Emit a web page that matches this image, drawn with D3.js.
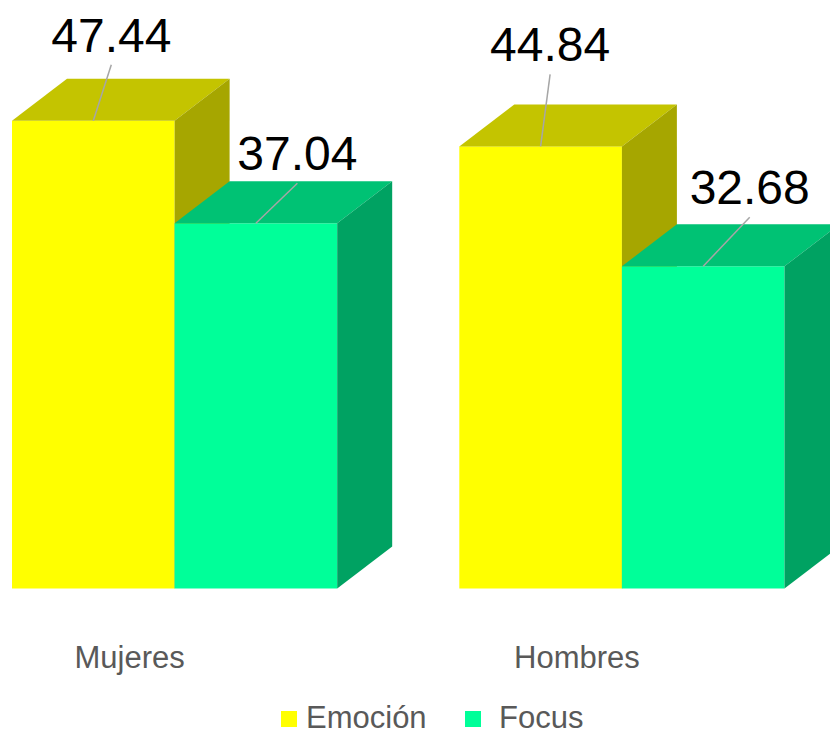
<!DOCTYPE html>
<html>
<head>
<meta charset="utf-8">
<script src="https://cdn.jsdelivr.net/npm/d3@7"></script>
<style>
  html, body { margin: 0; padding: 0; background: #fff; }
  svg { display: block; }
</style>
</head>
<body>
<svg id="chart" width="830" height="736"></svg>
<script>
// Data
const categories = ["Mujeres", "Hombres"];
const seriesNames = ["Emoción", "Focus"];
const emocionValues = [47.44, 44.84];
const focusValues = [37.04, 32.68];

// Presentation
const W = 830, H = 736;
const font = "'Liberation Sans', Arial, sans-serif";
const depthX = 55, depthY = 42;
const palette = {
  "Emoción": { front: "#FFFF00", top: "#C4C400", side: "#A6A600" },
  "Focus":   { front: "#00FF99", top: "#00C274", side: "#00A262" }
};
// label placement relative to the top-centre of each bar's front face: [dx, dy]
const labelShift = {
  "Emoción": [[18, -69], [9.5, -85]],
  "Focus":   [[41.5, -53], [46.5, -62]]
};

const svg = d3.select("#chart");

const x = d3.scaleBand().domain(categories).range([12, 784.5]).paddingInner(0.273).paddingOuter(0);
const xs = d3.scaleBand().domain(seriesNames).range([0, x.bandwidth()]).padding(0);
const y = d3.scaleLinear().domain([0, 50]).range([588.5, 95.5]);

const valuesBySeries = { "Emoción": emocionValues, "Focus": focusValues };

const bars = [];
categories.forEach((c, i) => {
  seriesNames.forEach(s => {
    bars.push({ cat: c, ci: i, series: s, value: valuesBySeries[s][i] });
  });
});

const plot = svg.append("g");

bars.forEach(b => {
  const x0 = x(b.cat) + xs(b.series);
  const x1 = x0 + xs.bandwidth();
  const yt = y(b.value);
  const yb = y(0);
  const col = palette[b.series];
  const g = plot.append("g").attr("class", "bar");
  // front face
  g.append("rect")
    .attr("x", x0).attr("y", yt)
    .attr("width", x1 - x0).attr("height", yb - yt)
    .attr("fill", col.front);
  // top face
  g.append("path")
    .attr("d", `M${x0},${yt}L${x0 + depthX},${yt - depthY}L${x1 + depthX},${yt - depthY}L${x1},${yt}Z`)
    .attr("fill", col.top);
  // side face
  g.append("path")
    .attr("d", `M${x1},${yt}L${x1 + depthX},${yt - depthY}L${x1 + depthX},${yb - depthY}L${x1},${yb}Z`)
    .attr("fill", col.side);
});

// value labels with leader lines
const labels = svg.append("g");
bars.forEach(b => {
  const cx = x(b.cat) + xs(b.series) + xs.bandwidth() / 2;
  const yt = y(b.value);
  const [dx, dy] = labelShift[b.series][b.ci];
  const lx = cx + dx, ly = yt + dy;
  labels.append("line")
    .attr("x1", cx).attr("y1", yt)
    .attr("x2", lx).attr("y2", ly + 13)
    .attr("stroke", "#A6A6A6").attr("stroke-width", 1.5);
  labels.append("text")
    .attr("x", lx).attr("y", ly)
    .attr("text-anchor", "middle")
    .attr("font-family", font).attr("font-size", 48)
    .attr("fill", "#000")
    .text(b.value.toFixed(2));
});

// category labels
svg.append("g").selectAll("text")
  .data(categories)
  .join("text")
  .attr("x", d => x(d) + x.bandwidth() / 2 - 45)
  .attr("y", 668)
  .attr("text-anchor", "middle")
  .attr("font-family", font).attr("font-size", 31)
  .attr("fill", "#595959")
  .text(d => d);

// legend
const legendItems = [
  { name: "Emoción", sx: 281, tx: 306 },
  { name: "Focus", sx: 465, tx: 499 }
];
const lg = svg.append("g");
legendItems.forEach(it => {
  lg.append("rect")
    .attr("x", it.sx).attr("y", 711)
    .attr("width", 16).attr("height", 16)
    .attr("fill", palette[it.name].front);
  lg.append("text")
    .attr("x", it.tx).attr("y", 728)
    .attr("font-family", font).attr("font-size", 31)
    .attr("fill", "#595959")
    .text(it.name);
});
</script>
</body>
</html>
